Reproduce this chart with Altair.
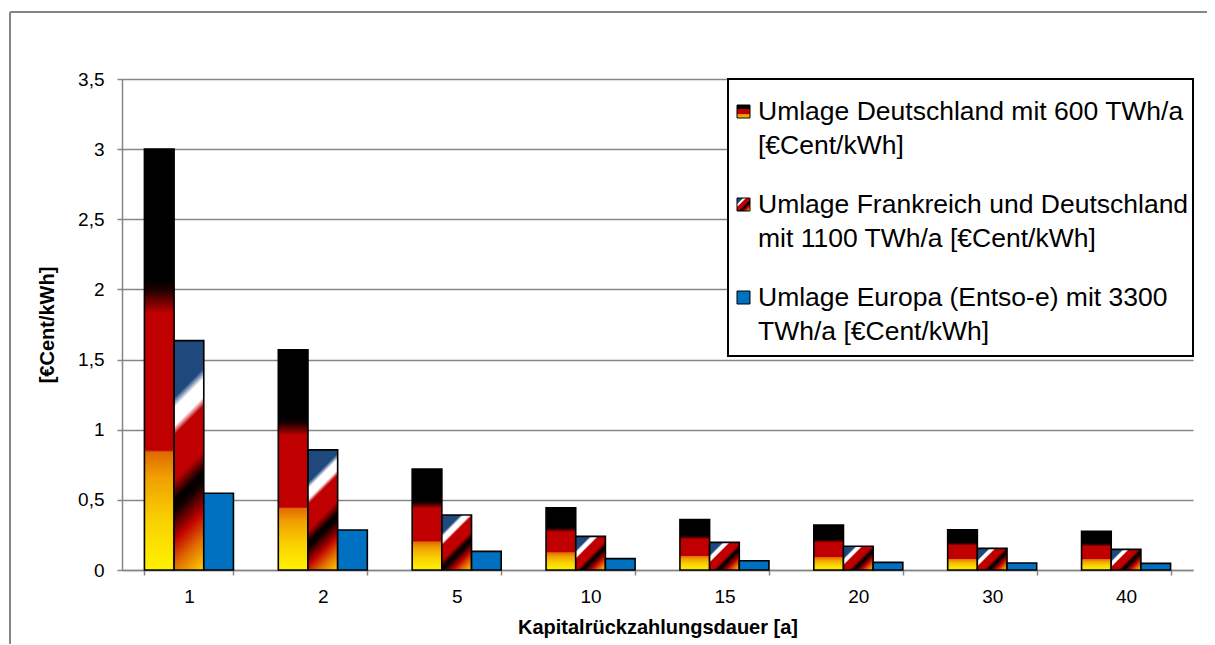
import altair as alt
import pandas as pd

# ---------------- data ----------------
categories = ["1", "2", "5", "10", "15", "20", "30", "40"]
series_keys = ["DE", "FR", "EU"]
de_values = [3.00, 1.57, 0.72, 0.444, 0.359, 0.32, 0.287, 0.276]
fr_values = [1.635, 0.856, 0.392, 0.240, 0.197, 0.169, 0.154, 0.147]
eu_values = [0.547, 0.285, 0.133, 0.081, 0.066, 0.054, 0.050, 0.047]
y_ticks = [0, 0.5, 1, 1.5, 2, 2.5, 3, 3.5]
legend_lines = [
    ["Umlage Deutschland mit 600 TWh/a", "[€Cent/kWh]"],
    ["Umlage Frankreich und Deutschland", "mit 1100 TWh/a [€Cent/kWh]"],
    ["Umlage Europa (Entso-e) mit 3300", "TWh/a [€Cent/kWh]"],
]
x_title = "Kapitalrückzahlungsdauer [a]"
y_title = "[€Cent/kWh]"

rows = []
for key, vals in zip(series_keys, [de_values, fr_values, eu_values]):
    for c, v in zip(categories, vals):
        rows.append({"cat": c, "s": key, "v": v})
df = pd.DataFrame(rows)

# ---------------- layout / style ----------------
FONT = "Liberation Sans"
W, H = 1071, 491
Y_MAX = 3.5
PAD_INNER, PAD_OUTER = 0.335, 0.1675
GRAY = "#868686"
step = W / (len(categories) - PAD_INNER + 2 * PAD_OUTER)
bar_w = step * (1 - PAD_INNER) / 3.0
px_per_unit = H / Y_MAX


def stops(lst):
    return [alt.GradientStop(offset=o, color=c) for o, c in lst]


de_stops = [(0.0, "#FFF200"), (0.12, "#FAD000"), (0.22, "#F0A000"),
            (0.28, "#E06A00"), (0.285, "#C00000"), (0.61, "#C00000"),
            (0.665, "#200000"), (0.69, "#000000"), (1.0, "#000000")]
de_grad = alt.LinearGradient(gradient="linear", stops=stops(de_stops),
                             x1=0, y1=1, x2=0, y2=0)

fr_stops = [(0.0, "#1F497D"), (0.22, "#1F497D"), (0.26, "#FFFFFF"),
            (0.33, "#FFFFFF"), (0.365, "#C00000"), (0.54, "#C00000"),
            (0.62, "#000000"), (0.66, "#100000"), (0.77, "#C00000"),
            (0.87, "#E06A00"), (1.0, "#FFD200")]


def diag_grad(w, h):
    # 45 degree stripes running from the top-left to the bottom-right corner
    a, b = 1.0 / h, 1.0 / w
    s = (a + b) / (a * a + b * b)
    return alt.LinearGradient(gradient="linear", stops=stops(fr_stops),
                              x1=0, y1=0, x2=s * a, y2=s * b)


x_enc = alt.X(
    "cat:N", sort=categories,
    scale=alt.Scale(paddingInner=PAD_INNER, paddingOuter=PAD_OUTER),
    axis=alt.Axis(title=x_title, labelAngle=0, tickBand="extent",
                  domainColor=GRAY, tickColor=GRAY, tickSize=5, domainWidth=1.5,
                  tickWidth=1.5, labelFontSize=19, labelColor="black",
                  labelPadding=12, titleFontSize=20, titleFontWeight="bold",
                  titlePadding=11, titleColor="black", grid=False),
)
xo_enc = alt.XOffset("s:N", sort=series_keys,
                     scale=alt.Scale(domain=series_keys, paddingInner=0, paddingOuter=0))
y_enc = alt.Y(
    "v:Q", scale=alt.Scale(domain=[0, Y_MAX], nice=False, zero=True),
    axis=alt.Axis(title=y_title, values=y_ticks,
                  labelExpr="replace(toString(datum.value), '.', ',')",
                  grid=True, gridColor=GRAY, gridWidth=1.5, domainColor=GRAY,
                  domainWidth=1.5, tickColor=GRAY, tickWidth=1.5, tickSize=5,
                  labelFontSize=19, labelColor="black", labelPadding=13,
                  titleFontSize=20, titleFontWeight="bold", titleColor="black",
                  titlePadding=20),
)

base = alt.Chart(df).encode(x=x_enc, xOffset=xo_enc, y=y_enc)
BAR_STYLE = dict(stroke="black", strokeWidth=1.6)

layers = []
layers.append(base.transform_filter(alt.datum.s == "DE").mark_bar(fill=de_grad, **BAR_STYLE))
for c, v in zip(categories, fr_values):
    g = diag_grad(bar_w, v * px_per_unit)
    layers.append(
        base.transform_filter((alt.datum.s == "FR") & (alt.datum.cat == c))
        .mark_bar(fill=g, **BAR_STYLE)
    )
layers.append(base.transform_filter(alt.datum.s == "EU").mark_bar(fill="#0070C0", **BAR_STYLE))

# ---------------- legend (drawn by hand) ----------------
one = pd.DataFrame({"k": [0]})
LX0, LX1, LY0, LY1 = 606, 1071, 0, 277
layers.append(alt.Chart(one).mark_rect(fill="white", stroke="black", strokeWidth=2).encode(
    x=alt.value(LX0), x2=alt.value(LX1), y=alt.value(LY0), y2=alt.value(LY1)))

sym_fills = [
    alt.LinearGradient(gradient="linear", x1=0, y1=0, x2=0, y2=1, stops=stops(
        [(0, "#000000"), (0.34, "#000000"), (0.34, "#C00000"), (0.66, "#C00000"),
         (0.66, "#F08000"), (1, "#F8C000")])),
    alt.LinearGradient(gradient="linear", x1=0, y1=0, x2=1, y2=1, stops=stops(fr_stops)),
    "#0070C0",
]
entry_y = [41, 134, 227]
for lines, fill, ey in zip(legend_lines, sym_fills, entry_y):
    layers.append(alt.Chart(one).mark_rect(fill=fill, stroke="black", strokeWidth=1).encode(
        x=alt.value(615), x2=alt.value(628), y=alt.value(ey - 15), y2=alt.value(ey - 2)))
    layers.append(alt.Chart(one).mark_text(
        align="left", baseline="alphabetic", font=FONT, fontSize=26.5, lineHeight=34,
        color="black").encode(x=alt.value(636), y=alt.value(ey), text=alt.value(lines)))

# ---------------- outer frame ----------------
layers.append(alt.Chart(one).mark_rule(color=GRAY, strokeWidth=2).encode(
    x=alt.value(-112), x2=alt.value(1085), y=alt.value(-67)))
layers.append(alt.Chart(one).mark_rule(color=GRAY, strokeWidth=2).encode(
    x=alt.value(-112), y=alt.value(-67), y2=alt.value(566)))

chart = alt.layer(*layers).properties(
    width=W, height=H,
    autosize=alt.AutoSizeParams(type="none"),
    padding={"left": 114, "top": 71, "right": 14, "bottom": 74},
    background="white",
).configure_view(stroke=None).configure_axis(labelFont=FONT, titleFont=FONT)

chart.save("out.html", embed_options={"renderer": "svg", "actions": False})
